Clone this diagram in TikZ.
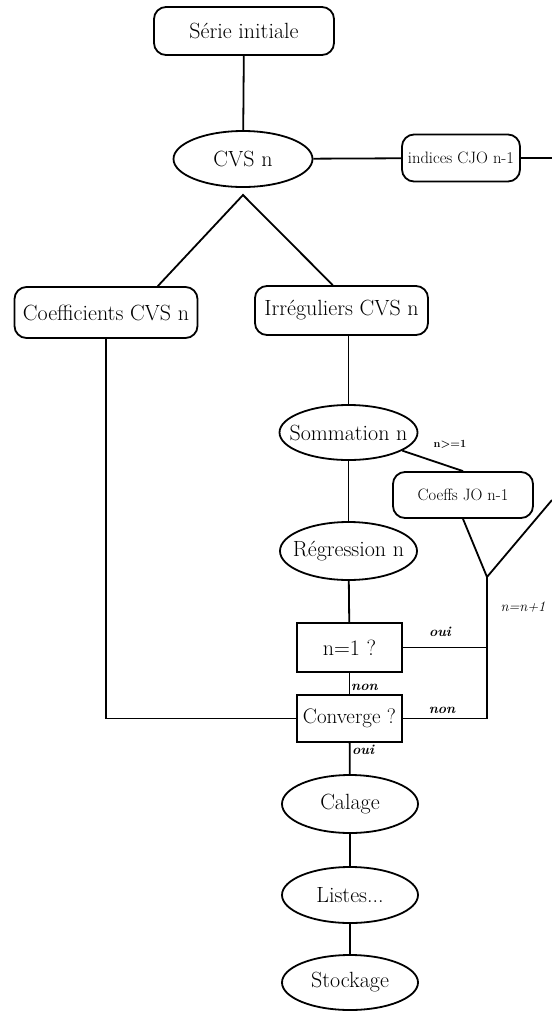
\documentclass[tikz,border=0pt]{standalone}
\usetikzlibrary{shapes.geometric}
% ellipse text is set without width so the outline keeps its given size
\newcommand\flowtext[1]{\makebox[0pt]{#1}}
\begin{document}
\begin{tikzpicture}[x=1pt,y=-1pt,
  link/.style={line width=1.8pt},
  rbox/.style={draw, line width=1.8pt, rounded corners=12pt, inner sep=0pt,
    font=\fontsize{22}{25}\selectfont},
  sqbox/.style={draw, line width=1.8pt, inner sep=0pt,
    font=\fontsize{22}{25}\selectfont},
  ell/.style={draw, ellipse, line width=1.8pt, inner sep=0pt,
    font=\fontsize{22}{25}\selectfont},
  small/.style={font=\fontsize{16.5}{19}\selectfont},
  lbl/.style={inner sep=0pt, font=\fontsize{14}{16}\selectfont\bfseries\itshape}]
\useasboundingbox (0,0) rectangle (552,1021);

% main chain
\node[rbox, minimum width=180pt, minimum height=48pt] (ser) at (244,31) {Série initiale};
\node[ell, minimum width=139pt, minimum height=56pt] (cvs) at (243,159) {\flowtext{CVS n}};
\node[rbox, small, minimum width=118pt, minimum height=47pt] (ind) at (461,158) {indices CJO n-1};
\node[rbox, minimum width=183pt, minimum height=51pt] (coef) at (106,312.5) {Coefficients CVS n};
\node[rbox, minimum width=173pt, minimum height=49pt] (irr) at (341.5,310.5) {Irréguliers CVS n};
\node[ell, minimum width=138pt, minimum height=55pt] (som) at (348.5,432.5) {\flowtext{Sommation n}};
\node[rbox, small, minimum width=140pt, minimum height=46pt] (coj) at (463,495) {Coeffs JO n-1};
\node[ell, minimum width=137pt, minimum height=58pt] (reg) at (348.5,551) {\flowtext{Régression n}};
\node[sqbox, minimum width=105pt, minimum height=49pt] (n1) at (349.5,647.5) {n=1 ?};
\node[sqbox, minimum width=105pt, minimum height=47pt, font=\fontsize{21}{24}\selectfont] (conv) at (349.5,718.5) {Converge ?};
\node[ell, minimum width=136pt, minimum height=58pt] (cal) at (350,804) {\flowtext{Calage}};
\node[ell, minimum width=136pt, minimum height=56pt] (lis) at (350,895) {\flowtext{Listes...}};
\node[ell, minimum width=136pt, minimum height=55pt] (sto) at (350,982.5) {\flowtext{Stockage}};

% junction points and off-page ends
\coordinate (top) at (243,195);
\coordinate (v) at (487,577);
\coordinate (edgeA) at (552,158);
\coordinate (edgeB) at (552,500);

% connectors
\draw[link] (ser) -- (cvs);
\draw[link] (cvs) -- (ind);
\draw[link] (ind.east) -- (edgeA);
\draw[link] (coef.27.7) -- (top) -- (irr.109);
\draw[link] (irr.south -| som) -- (som);
\draw[link] (som) -- (coj.north);
\draw[link] (som) -- (reg);
\draw[link] (reg) -- (n1);
\draw[link] (n1) -- (conv);
\draw[link] (conv) -- (cal);
\draw[link] (cal) -- (lis);
\draw[link] (lis) -- (sto);
\draw[link] (coj.south) -- (v) -- (edgeB);
\draw[link] (n1.east) -- (n1.east -| v);
\draw[link] (v) |- (conv.east);
\draw[link] (coef.south) |- (conv.west);

% labels
\node[inner sep=0pt, font=\fontsize{11}{13}\selectfont\bfseries] (ge) at (450,444) {n>=1};
\node[inner sep=0pt, font=\fontsize{14.5}{17}\selectfont\itshape] (inc) at (523,607) {n=n+1};
\node[lbl] (ouiA) at (440,632) {oui};
\node[lbl] (nonA) at (442,710) {non};
\node[lbl, anchor=west] (nonB) at (351,687) {non};
\node[lbl, anchor=west] (ouiB) at (352,750) {oui};
\end{tikzpicture}
\end{document}
